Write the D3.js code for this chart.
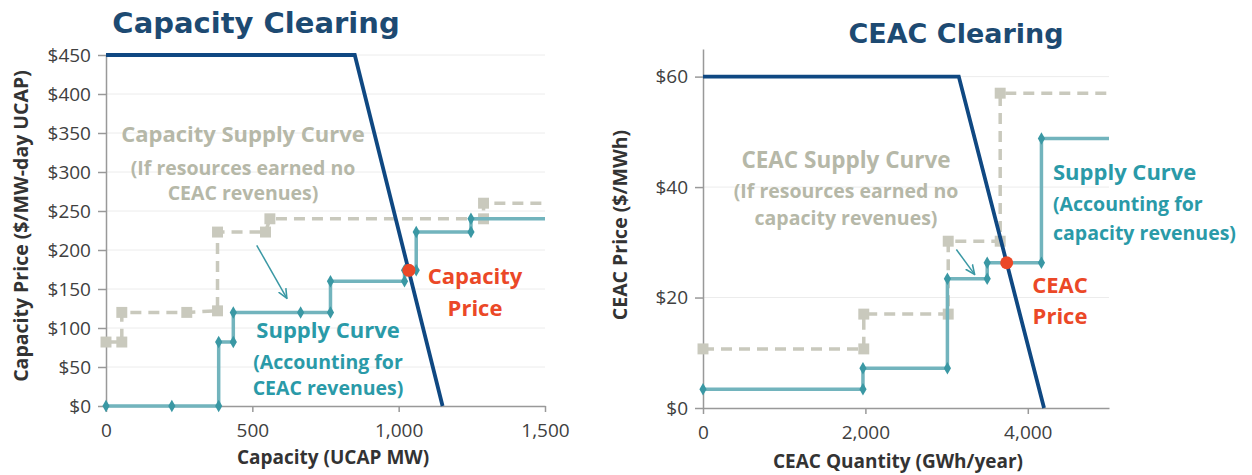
<!DOCTYPE html>
<html>
<head>
<meta charset="utf-8">
<script src="https://cdn.jsdelivr.net/npm/d3@7"></script>
<style>
  body { margin: 0; background: #fff; }
  svg { display: block; font-family: "Open Sans", Lato, sans-serif; }
  .grid line { stroke: #ececec; stroke-width: 1; }
  .axis path, .axis line { stroke: #999; stroke-width: 1.5; }
  .axis text { font-family: "Open Sans", sans-serif; font-size: 19px; fill: #404040; }
  .axis-title { font-weight: bold; fill: #333; }
</style>
</head>
<body>
<svg width="1252" height="475"></svg>
<script>
// ---- capacity clearing (left) ----
var capDemand = [[0, 450], [850, 450], [1150, 0]];
var capSupply = [[0, 0], [225, 0], [385, 0], [385, 82], [435, 82], [435, 120], [665, 120], [767, 120],
  [767, 160], [1020, 160], [1020, 174], [1060, 174], [1060, 223], [1247, 223], [1247, 240], [1500, 240]];
var capSupplyNoCeac = [[0, 82], [54, 82], [54, 120], [276, 120], [381, 122], [381, 223], [545, 223],
  [560, 240], [1290, 240], [1290, 260], [1500, 260]];
var capPrice = [1035, 174];
var capArrow = [[515, 206], [618, 138]];
var capXTicks = [0, 500, 1000, 1500];
var capYTicks = [0, 50, 100, 150, 200, 250, 300, 350, 400, 450];

// ---- CEAC clearing (right) ----
var ceacDemand = [[0, 60], [3150, 60], [4200, 0]];
var ceacSupply = [[0, 3.4], [1970, 3.4], [1970, 7.2], [3010, 7.2], [3010, 23.4], [3500, 23.4],
  [3500, 26.3], [4168, 26.3], [4168, 48.8], [5000, 48.8]];
var ceacSupplyNoCap = [[0, 10.7], [1980, 10.7], [1980, 17], [3020, 17], [3020, 30.2], [3660, 30.2],
  [3660, 57], [5000, 57]];
var ceacPrice = [3740, 26.3];
var ceacArrow = [[3120, 28.7], [3345, 24.2]];
var ceacXTicks = [0, 2000, 4000];
var ceacYTicks = [0, 20, 40, 60];

var svg = d3.select("svg");

var navy = "#0f4882",
    teal = "#72b4bd",
    tealDark = "#3a98a4",
    tealText = "#2a9aa8",
    grey = "#c9c9bd",
    greyText = "#b6b8a8",
    red = "#eb4827";

var defs = svg.append("defs");
defs.append("marker")
    .attr("id", "arrow")
    .attr("viewBox", "0 0 10 10")
    .attr("refX", 9).attr("refY", 5)
    .attr("markerWidth", 7).attr("markerHeight", 7)
    .attr("orient", "auto")
  .append("path")
    .attr("d", "M0,1 L9,5 L0,9")
    .attr("fill", "none")
    .attr("stroke", tealDark)
    .attr("stroke-width", 1.5);

function drawChart(c) {
  var g = svg.append("g");

  var x = d3.scaleLinear().domain(c.xDomain).range(c.xRange);
  var y = d3.scaleLinear().domain(c.yDomain).range(c.yRange);

  // gridlines
  g.append("g")
      .attr("class", "grid")
    .selectAll("line")
    .data(c.yTicks.filter(function(d) { return d > 0; }))
    .enter().append("line")
      .attr("x1", x(c.xDomain[0]))
      .attr("x2", x(c.xDomain[1]))
      .attr("y1", function(d) { return y(d); })
      .attr("y2", function(d) { return y(d); });

  // axes
  g.append("g")
      .attr("class", "axis")
      .attr("transform", "translate(0," + y(0) + ")")
      .call(d3.axisBottom(x).tickValues(c.xTicks).tickSize(6).tickSizeOuter(0).tickPadding(12)
        .tickFormat(d3.format(",")));

  g.append("g")
      .attr("class", "axis")
      .attr("transform", "translate(" + x(0) + ",0)")
      .call(d3.axisLeft(y).tickValues(c.yTicks).tickSize(8).tickSizeOuter(0).tickPadding(7)
        .tickFormat(function(d) { return "$" + d; }));

  var line = d3.line()
      .x(function(d) { return x(d[0]); })
      .y(function(d) { return y(d[1]); });

  // supply without other revenues (dashed)
  g.append("path")
      .datum(c.supplyAlt)
      .attr("d", line)
      .attr("fill", "none")
      .attr("stroke", grey)
      .attr("stroke-width", 3.5)
      .attr("stroke-dasharray", "11,7");

  g.append("g")
    .selectAll("path")
    .data(c.supplyAlt.slice(0, -1))
    .enter().append("path")
      .attr("d", d3.symbol().type(d3.symbolSquare).size(120))
      .attr("transform", function(d) { return "translate(" + x(d[0]) + "," + y(d[1]) + ")"; })
      .attr("fill", grey);

  // supply curve (solid teal)
  g.append("path")
      .datum(c.supply)
      .attr("d", line)
      .attr("fill", "none")
      .attr("stroke", teal)
      .attr("stroke-width", 3.5);

  g.append("g")
    .selectAll("path")
    .data(c.supply.slice(0, -1))
    .enter().append("path")
      .attr("d", d3.symbol().type(d3.symbolDiamond).size(45))
      .attr("transform", function(d) { return "translate(" + x(d[0]) + "," + y(d[1]) + ")"; })
      .attr("fill", tealDark);

  // demand curve
  g.append("path")
      .datum(c.demand)
      .attr("d", line)
      .attr("fill", "none")
      .attr("stroke", navy)
      .attr("stroke-width", 3.8);

  // arrow
  g.append("line")
      .attr("x1", x(c.arrow[0][0])).attr("y1", y(c.arrow[0][1]))
      .attr("x2", x(c.arrow[1][0])).attr("y2", y(c.arrow[1][1]))
      .attr("stroke", tealDark)
      .attr("stroke-width", 1.5)
      .attr("marker-end", "url(#arrow)");

  // clearing price dot
  g.append("circle")
      .attr("cx", x(c.price[0]))
      .attr("cy", y(c.price[1]))
      .attr("r", 6.5)
      .attr("fill", red);

  // title
  g.append("text")
      .attr("x", c.title.x).attr("y", c.title.y)
      .attr("text-anchor", "middle")
      .style("font-family", "'DejaVu Sans', sans-serif")
      .style("font-size", c.title.size + "px")
      .style("font-weight", "bold")
      .attr("fill", "#1d4a72")
      .text(c.title.text);

  // axis titles
  g.append("text")
      .attr("class", "axis-title")
      .attr("x", c.xTitle.x).attr("y", c.xTitle.y)
      .attr("text-anchor", "middle")
      .style("font-size", c.xTitle.size + "px")
      .text(c.xTitle.text);

  g.append("text")
      .attr("class", "axis-title")
      .attr("transform", "translate(" + c.yTitle.x + "," + c.yTitle.y + ") rotate(-90)")
      .attr("text-anchor", "middle")
      .style("font-size", c.yTitle.size + "px")
      .text(c.yTitle.text);

  // annotations
  c.notes.forEach(function(n) {
    var t = g.append("text")
        .attr("x", n.x).attr("y", n.y)
        .attr("text-anchor", n.anchor)
        .attr("fill", n.color)
        .style("font-weight", "bold");
    n.lines.forEach(function(s, i) {
      t.append("tspan")
          .attr("x", n.x)
          .attr("y", n.y + (i === 0 ? 0 : n.first + (i - 1) * n.step))
          .style("font-size", (i === 0 ? n.size0 : n.size1) + "px")
          .text(s);
    });
  });
}

drawChart({
  xDomain: [0, 1500], xRange: [106, 545],
  yDomain: [0, 450], yRange: [406, 55],
  xTicks: capXTicks, yTicks: capYTicks,
  demand: capDemand, supply: capSupply, supplyAlt: capSupplyNoCeac,
  price: capPrice, arrow: capArrow,
  title: { text: "Capacity Clearing", x: 256, y: 33, size: 29 },
  xTitle: { text: "Capacity (UCAP MW)", x: 333, y: 464, size: 19 },
  yTitle: { text: "Capacity Price ($/MW-day UCAP)", x: 28, y: 226, size: 19.5 },
  notes: [
    { lines: ["Capacity Supply Curve", "(If resources earned no", "CEAC revenues)"],
      x: 243, y: 142, first: 33, step: 25, size0: 22, size1: 19.5, anchor: "middle", color: greyText },
    { lines: ["Supply Curve", "(Accounting for", "CEAC revenues)"],
      x: 328, y: 338, first: 31, step: 26, size0: 22, size1: 19.5, anchor: "middle", color: tealText },
    { lines: ["Capacity", "Price"],
      x: 475, y: 284, first: 32, step: 0, size0: 22, size1: 22, anchor: "middle", color: red }
  ]
});

drawChart({
  xDomain: [0, 5000], xRange: [703, 1109],
  yDomain: [0, 65], yRange: [408, 49],
  xTicks: ceacXTicks, yTicks: ceacYTicks,
  demand: ceacDemand, supply: ceacSupply, supplyAlt: ceacSupplyNoCap,
  price: ceacPrice, arrow: ceacArrow,
  title: { text: "CEAC Clearing", x: 956, y: 43, size: 27 },
  xTitle: { text: "CEAC Quantity (GWh/year)", x: 898, y: 468, size: 19 },
  yTitle: { text: "CEAC Price ($/MWh)", x: 627, y: 225, size: 19.5 },
  notes: [
    { lines: ["CEAC Supply Curve", "(If resources earned no", "capacity revenues)"],
      x: 846, y: 168, first: 30, step: 27, size0: 22.5, size1: 19.5, anchor: "middle", color: greyText },
    { lines: ["Supply Curve", "(Accounting for", "capacity revenues)"],
      x: 1053, y: 180, first: 31, step: 29, size0: 22, size1: 19.5, anchor: "start", color: tealText },
    { lines: ["CEAC", "Price"],
      x: 1060, y: 293, first: 31, step: 0, size0: 22, size1: 22, anchor: "middle", color: red }
  ]
});
</script>
</body>
</html>
